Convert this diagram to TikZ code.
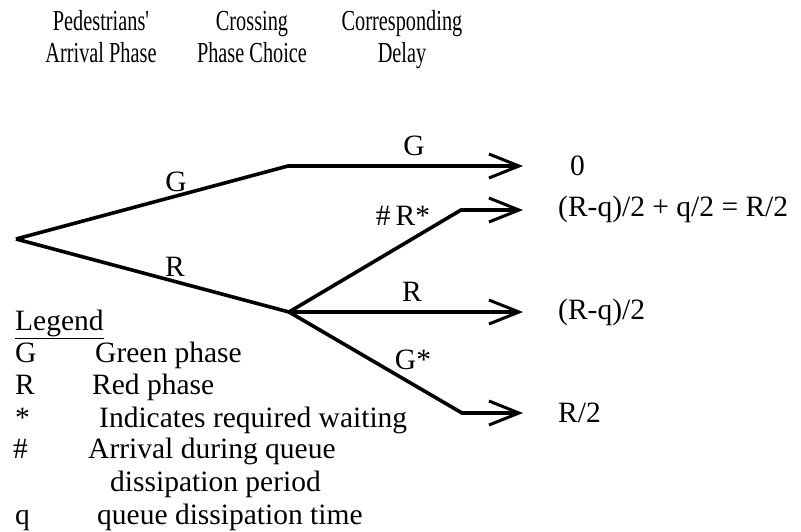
\documentclass[tikz,border=0pt]{standalone}
\usepackage{fontspec}
\setmainfont{Liberation Serif}
\newfontfamily\headfont[FakeStretch=0.7]{Liberation Serif}
\usetikzlibrary{arrows.meta}
\usetikzlibrary{positioning}
\tikzset{
    branch/.style={draw=black, line width=3.6pt,
        -{Straight Barb[length=30pt,width=24pt,line width=3pt]}},
    lbl/.style={font=\fontsize{29.5}{32}\selectfont, inner sep=0pt},
    delay/.style={lbl, anchor=west},
    legend/.style={lbl, anchor=base west},
    heading/.style={font=\headfont\fontsize{29}{32}\selectfont, align=center, anchor=base, inner sep=0pt},
}
\begin{document}
\begin{tikzpicture}[x=1pt, y=-1pt]
	\useasboundingbox (0,0) rectangle (801,531);
	\node[heading] (arrhead) at (101,62) {Pedestrians'\\Arrival Phase};
	\node[heading] (crosshead) at (252,62) {Crossing\\Phase Choice};
	\node[heading] (delayhead) at (402,62) {Corresponding\\Delay};
	\coordinate (root) at (16,239);
	\coordinate (gnode) at (288,166);
	\coordinate (rnode) at (289,312);
	\coordinate (rstar) at (461,210);
	\coordinate (gstar) at (462,413);
	\coordinate (gend) at (523,166);
	\coordinate (rsend) at (523,210);
	\coordinate (rend) at (523,312);
	\coordinate (gsend) at (523,413);
	\draw[branch] (root)--(gnode)--(gend);
	\draw[branch] (root)--(rnode)--(rend);
	\draw[branch] (rnode)--(rstar)--(rsend);
	\draw[branch] (rnode)--(gstar)--(gsend);
	\node[lbl] (garr) at (176,182) {G};
	\node[lbl] (rarr) at (175,267) {R};
	\node[lbl] (gcross) at (414,146) {G};
	\node[lbl] (rscross) at (403,216) {\#\,R*};
	\node[lbl] (rcross) at (412,292) {R};
	\node[lbl] (gscross) at (413,360) {G*};
	\node[delay] (gdelay) at (570,166) {0};
	\node[delay] (rsdelay) at (558,209) {(R-q)/2 + q/2 = R/2};
	\node[delay] (rdelay) at (558,312) {(R-q)/2};
	\node[delay] (gsdelay) at (558,413) {R/2};
	\node[legend] (legtitle) at (15,330) {\underline{Legend}};
	\node[legend] (legg) at (15,362) {G};
	\node[legend] (leggtext) at (95,362) {Green phase};
	\node[legend] (legr) at (15,394) {R};
	\node[legend] (legrtext) at (92,394) {Red phase};
	\node[legend] (legstar) at (15,427) {*};
	\node[legend] (legstartext) at (99,427) {Indicates required waiting};
	\node[legend] (leghash) at (13,458) {\#};
	\node[legend] (leghashtext) at (88,458) {Arrival during queue};
	\node[legend] (leghashmore) at (110,491) {dissipation period};
	\node[legend] (legq) at (15,524) {q};
	\node[legend] (legqtext) at (97,524) {queue dissipation time};
\end{tikzpicture}
\end{document}
